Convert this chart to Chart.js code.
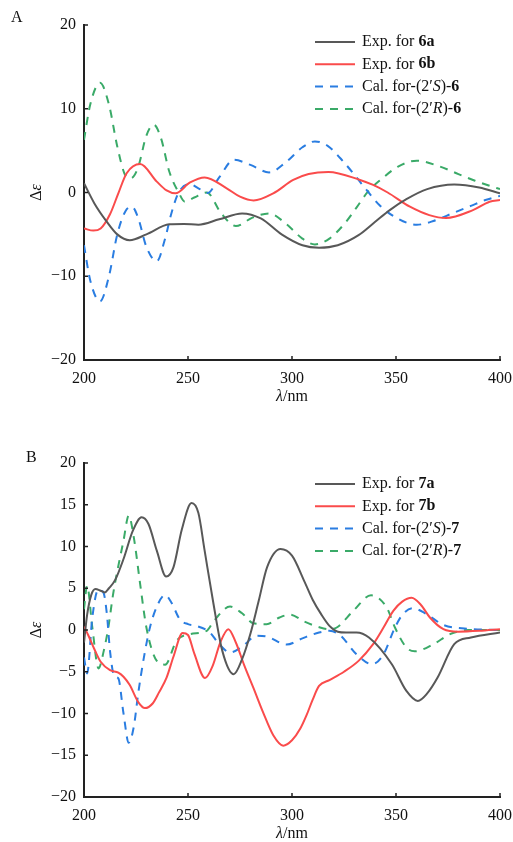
<!DOCTYPE html>
<html>
<head>
<meta charset="utf-8">
<script src="https://cdn.jsdelivr.net/npm/chart.js@4.4.1/dist/chart.umd.min.js"></script>
<style>
  html, body { margin: 0; padding: 0; background: #fff; }
  #wrap { position: relative; width: 513px; height: 842px; }
  .panel { position: absolute; left: 0; width: 513px; }
</style>
</head>
<body>
<div id="wrap">
  <div class="panel" style="top:0;height:420px"><canvas id="chartA" width="513" height="420"></canvas></div>
  <div class="panel" style="top:420px;height:422px"><canvas id="chartB" width="513" height="422"></canvas></div>
</div>
<script>
// ---- panel A : compound 6 ----
let exp6aNm = [200, 205, 211, 216, 222, 230, 241, 248, 255, 265, 276, 285, 295, 305, 313, 322, 332, 340, 347, 355, 365, 378, 390, 400];
let exp6aDe = [1.1, -1.3, -3.5, -5.0, -5.7, -5.0, -3.8, -3.75, -3.85, -3.2, -2.5, -3.1, -5.0, -6.3, -6.6, -6.3, -5.1, -3.5, -2.1, -0.8, 0.4, 0.95, 0.6, -0.1];

let exp6bNm = [200, 204.5, 208, 212.5, 216.5, 220.5, 227, 235, 239.7, 244, 251, 258, 268.6, 275, 281.5, 291, 300.6, 308, 317.5, 332.7, 339, 346, 356.7, 366, 374, 387, 395, 400];
let exp6bDe = [-4.3, -4.55, -4.3, -2.6, -0.1, 2.3, 3.4, 1.3, 0.25, -0.1, 1.2, 1.8, 0.5, -0.5, -0.95, -0.1, 1.5, 2.2, 2.45, 1.5, 0.9, 0.0, -1.7, -2.7, -3.05, -2.1, -1.1, -0.9];

let cal6sNm = [200, 203, 207.7, 212, 216, 220, 223, 226, 230, 235, 239, 242, 245.5, 251, 255, 259.5, 265, 272, 280, 289, 297, 305, 311, 317, 325, 331, 336.5, 342, 350, 360, 368, 377, 386, 393, 400];
let cal6sDe = [-6.3, -10.5, -13.0, -10.0, -5.0, -2.2, -1.7, -3.0, -6.5, -8.2, -5.5, -2.5, 0.0, 1.0, 0.5, -0.05, 1.8, 3.9, 3.3, 2.4, 3.6, 5.4, 6.1, 5.6, 3.6, 1.8, 0.1, -1.5, -3.0, -3.85, -3.4, -2.5, -1.6, -0.9, -0.4];

let cal6rNm = [200, 203, 207.7, 212, 216, 220, 222.5, 226, 230, 233.5, 237, 241, 245.5, 248.5, 253, 259, 266, 273, 281, 289, 297, 305, 311, 318, 326, 331, 336.5, 343, 351, 360, 370, 380, 388, 395, 400];
let cal6rDe = [6.3, 10.5, 13.1, 10.5, 5.5, 2.0, 1.7, 3.0, 6.8, 8.1, 6.5, 2.5, 0.0, -1.1, -0.6, 0.0, -2.5, -4.0, -3.0, -2.5, -3.7, -5.5, -6.2, -5.5, -3.5, -1.8, 0.1, 1.6, 3.1, 3.8, 3.2, 2.2, 1.4, 0.8, 0.4];

// ---- panel B : compound 7 ----
let exp7aNm = [200, 201.5, 203.5, 205.5, 208, 210, 212, 215, 219, 223.5, 227.7, 231, 235, 239.5, 243, 247, 251.7, 255, 258, 262, 266.5, 272, 276, 280, 284, 288, 294.5, 300, 306, 310, 314, 318, 322, 326, 331, 337, 348, 355, 360.5, 365, 370, 378, 386, 400];
let exp7aDe = [-1.5, 1.8, 4.2, 4.9, 4.7, 4.5, 5.0, 6.0, 8.5, 11.9, 13.5, 12.7, 9.5, 6.4, 7.5, 12.0, 15.2, 14.0, 9.5, 3.5, -2.5, -5.3, -3.5, -0.45, 3.5, 7.5, 9.7, 8.9, 5.8, 3.6, 1.9, 0.5, -0.2, -0.3, -0.3, -0.9, -4.1, -7.3, -8.5, -7.6, -5.7, -1.7, -0.9, -0.3];

let exp7bNm = [200, 202, 205, 208, 212.5, 216.5, 219, 222, 226, 229.3, 233, 236, 239.7, 243, 247.4, 250, 253, 258.2, 262, 265.5, 269.4, 273, 277, 281.4, 286, 291, 295.8, 300, 304, 307, 310, 313, 318, 325, 332, 339, 344, 348.7, 353, 357.5, 362, 366.3, 372.8, 380, 390, 400];
let exp7bDe = [0.4, -0.6, -2.3, -3.8, -4.8, -5.1, -5.6, -6.6, -8.6, -9.35, -8.8, -7.5, -5.7, -3.2, -0.35, -0.6, -2.8, -5.75, -4.2, -1.5, 0.1, -1.5, -4.2, -6.9, -9.8, -12.6, -13.85, -13.2, -11.8, -10.2, -8.3, -6.7, -6.0, -5.0, -3.7, -1.7, 0.3, 2.3, 3.4, 3.85, 3.0, 1.5, 0.1, -0.2, -0.1, 0.1];

let cal7sNm = [200, 201.5, 204, 206.8, 209.3, 211, 212.5, 214.5, 216.5, 219, 221.5, 224, 226, 229, 231.7, 235, 239, 242, 246, 250, 254, 260.5, 265, 270.2, 276, 283, 288, 297.4, 305, 313, 318, 323, 331, 338.5, 344, 349.5, 353, 358, 364.7, 372.8, 384, 400];
let cal7sDe = [-3.3, -5.2, 1.5, 4.8, 4.5, 1.9, -2.5, -5.5, -5.8, -10.0, -13.5, -11.5, -7.7, -3.0, 0.3, 2.8, 4.2, 3.3, 1.3, 0.7, 0.5, -0.3, -1.7, -2.7, -2.0, -0.7, -0.8, -1.75, -1.0, -0.3, -0.1, -0.6, -2.9, -4.1, -2.9, 0.3, 1.8, 2.6, 1.9, 0.6, 0.15, 0.0];

let cal7rNm = [200, 201.5, 204, 207, 209.5, 211.7, 214, 219, 221.5, 224, 227, 230, 235, 239, 244.5, 251, 259, 262.5, 270.2, 276, 281.4, 287.8, 294, 299, 306, 313.5, 318, 321.5, 329.5, 338, 345.5, 349.5, 355, 359, 368, 376, 385, 400];
let cal7rDe = [2.5, 5.3, 0.3, -4.6, -2.5, 0.3, 4.3, 10.7, 13.7, 11.0, 5.5, 0.3, -3.7, -4.15, -1.3, -0.5, -0.1, 1.1, 2.8, 2.0, 0.8, 0.7, 1.5, 1.85, 1.0, 0.3, 0.1, 0.3, 2.3, 4.15, 2.7, 0.3, -2.1, -2.55, -1.7, -0.5, 0.0, 0.0];

// axis ticks
let xTicks = [200, 250, 300, 350, 400];
let yTicksA = [-20, -10, 0, 10, 20];
let yTicksB = [-20, -15, -10, -5, 0, 5, 10, 15, 20];

// legend labels, as rich text pieces
let legendA = [
    [['Exp. for ', ''], ['6a', 'bold']],
    [['Exp. for ', ''], ['6b', 'bold']],
    [['Cal. for-(2\u2032', ''], ['S', 'italic'], [')-', ''], ['6', 'bold']],
    [['Cal. for-(2\u2032', ''], ['R', 'italic'], [')-', ''], ['6', 'bold']]
];
let legendB = [
    [['Exp. for ', ''], ['7a', 'bold']],
    [['Exp. for ', ''], ['7b', 'bold']],
    [['Cal. for-(2\u2032', ''], ['S', 'italic'], [')-', ''], ['7', 'bold']],
    [['Cal. for-(2\u2032', ''], ['R', 'italic'], [')-', ''], ['7', 'bold']]
];

const SERIF = '"Liberation Serif", "Times New Roman", serif';
const GRAY = '#585858', RED = '#fa4b4b', BLUE = '#2a7de1', GREEN = '#3aaa68';
const DASH = [8, 7];

function pts(nm, de) {
    return nm.map((x, i) => ({ x: x, y: de[i] }));
}

function drawRich(ctx, segs, x, y) {
    segs.forEach(s => {
        ctx.font = (s[1] ? s[1] + ' ' : '') + '16px ' + SERIF;
        ctx.fillText(s[0], x, y);
        x += ctx.measureText(s[0]).width;
    });
    return x;
}

function richWidth(ctx, segs) {
    let w = 0;
    segs.forEach(s => {
        ctx.font = (s[1] ? s[1] + ' ' : '') + '16px ' + SERIF;
        w += ctx.measureText(s[0]).width;
    });
    return w;
}

// letters, inward ticks, axis titles and the legend box
const decor = {
    id: 'decor',
    afterDraw(chart, args, o) {
        let ctx = chart.ctx;
        let area = chart.chartArea;
        ctx.save();

        // tick marks point into the plot
        ctx.strokeStyle = '#222';
        ctx.lineWidth = 1.5;
        ctx.beginPath();
        xTicks.forEach(v => {
            let px = chart.scales.x.getPixelForValue(v);
            ctx.moveTo(px, area.bottom);
            ctx.lineTo(px, area.bottom - 4);
        });
        o.yTicks.forEach(v => {
            let py = chart.scales.y.getPixelForValue(v);
            ctx.moveTo(area.left, py);
            ctx.lineTo(area.left + 4, py);
        });
        ctx.stroke();

        ctx.fillStyle = '#111';
        ctx.textBaseline = 'alphabetic';

        // panel letter
        ctx.font = '16px ' + SERIF;
        ctx.fillText(o.letter, o.letterX, o.letterY);

        // x title
        ctx.textBaseline = 'middle';
        let xt = [['\u03bb', 'italic'], ['/nm', '']];
        let w = richWidth(ctx, xt);
        drawRich(ctx, xt, (area.left + area.right) / 2 - w / 2, o.xTitleY);

        // y title, rotated
        let yt = [['\u0394', ''], ['\u03b5', 'italic']];
        w = richWidth(ctx, yt);
        ctx.save();
        ctx.translate(o.yTitleX, (area.top + area.bottom) / 2);
        ctx.rotate(-Math.PI / 2);
        drawRich(ctx, yt, -w / 2, 0);
        ctx.restore();

        // legend
        chart.data.datasets.forEach((ds, i) => {
            let y = o.legendY + i * o.legendGap;
            ctx.save();
            ctx.strokeStyle = ds.borderColor;
            ctx.lineWidth = 2;
            ctx.setLineDash(ds.borderDash || []);
            ctx.beginPath();
            ctx.moveTo(o.legendX, y);
            ctx.lineTo(o.legendX + 40, y);
            ctx.stroke();
            ctx.restore();
            ctx.fillStyle = '#111';
            drawRich(ctx, o.labels[i], o.legendX + 47, y);
        });
        ctx.restore();
    }
};

function makePanel(id, sets, yTicks, cfg) {
    let datasets = sets.map(s => ({
        data: pts(s[0], s[1]),
        borderColor: s[2],
        borderWidth: 2,
        borderDash: s[3] ? DASH : [],
        pointRadius: 0,
        fill: false,
        cubicInterpolationMode: 'monotone'
    }));
    cfg.yTicks = yTicks;

    return new Chart(document.getElementById(id), {
        type: 'line',
        data: { datasets: datasets },
        plugins: [decor],
        options: {
            responsive: false,
            animation: false,
            layout: { padding: { top: cfg.padTop, right: 13, left: 0, bottom: 0 } },
            plugins: {
                legend: { display: false },
                tooltip: { enabled: false },
                decor: cfg
            },
            scales: {
                x: {
                    type: 'linear', min: 200, max: 400,
                    afterBuildTicks: s => { s.ticks = xTicks.map(v => ({ value: v })); },
                    ticks: { font: { family: SERIF, size: 16 }, color: '#111', padding: 9, maxRotation: 0 },
                    grid: { drawOnChartArea: false, drawTicks: false },
                    border: { display: true, color: '#222', width: 2 },
                    afterFit: s => {
                        s.height = cfg.xAxisH;
                        s.paddingLeft = 0;
                        s.paddingRight = 0;
                    }
                },
                y: {
                    type: 'linear', min: -20, max: 20,
                    afterBuildTicks: s => { s.ticks = yTicks.map(v => ({ value: v })); },
                    ticks: {
                        font: { family: SERIF, size: 16 }, color: '#111', padding: 8,
                        callback: v => String(v).replace('-', '\u2212')
                    },
                    grid: { drawOnChartArea: false, drawTicks: false },
                    border: { display: true, color: '#222', width: 2 },
                    afterFit: s => {
                        s.width = 84;
                        s.paddingTop = 0;
                        s.paddingBottom = 0;
                    }
                }
            }
        }
    });
}

makePanel('chartA', [
    [exp6aNm, exp6aDe, GRAY, false],
    [exp6bNm, exp6bDe, RED, false],
    [cal6sNm, cal6sDe, BLUE, true],
    [cal6rNm, cal6rDe, GREEN, true]
], yTicksA, {
    padTop: 25, xAxisH: 60,
    letter: 'A', letterX: 11, letterY: 22,
    xTitleY: 397, yTitleX: 37,
    legendX: 315, legendY: 42, legendGap: 22.3, labels: legendA
});

makePanel('chartB', [
    [exp7aNm, exp7aDe, GRAY, false],
    [exp7bNm, exp7bDe, RED, false],
    [cal7sNm, cal7sDe, BLUE, true],
    [cal7rNm, cal7rDe, GREEN, true]
], yTicksB, {
    padTop: 43, xAxisH: 45,
    letter: 'B', letterX: 26, letterY: 42,
    xTitleY: 414, yTitleX: 37,
    legendX: 315, legendY: 64, legendGap: 22.3, labels: legendB
});
</script>
</body>
</html>
